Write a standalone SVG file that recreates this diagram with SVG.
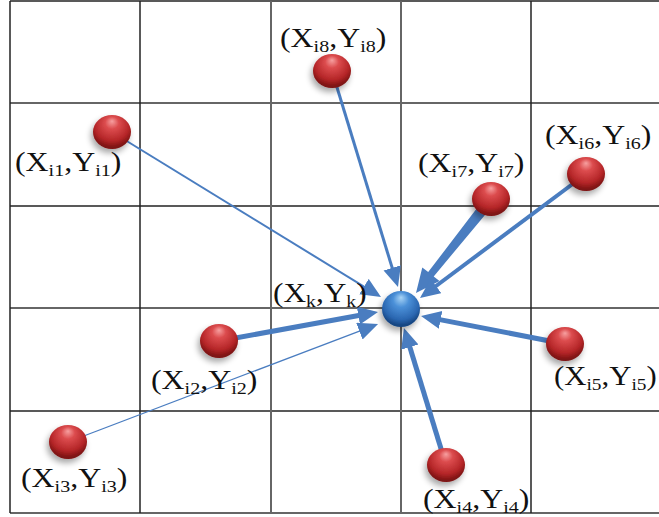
<svg xmlns="http://www.w3.org/2000/svg" width="659" height="517" viewBox="0 0 659 517">
<defs>
<style>
.gk{stroke:#222;stroke-width:1.5;fill:none}
.gg{stroke:#666;stroke-width:2;fill:none}
.c{stroke:#4a7dc0;fill:none;stroke-linecap:butt}
.lbl{font-family:"Liberation Serif","Times New Roman",serif;font-size:27px;fill:#111}
.s{font-size:17px}
</style>
<radialGradient id="red" cx="50%" cy="35%" r="60%" fx="50%" fy="18%">
<stop offset="0" stop-color="#f7a0a0"/>
<stop offset="0.3" stop-color="#dc4c4e"/>
<stop offset="0.75" stop-color="#b52628"/>
<stop offset="1" stop-color="#7c1212"/>
</radialGradient>
<radialGradient id="blue" cx="50%" cy="35%" r="60%" fx="50%" fy="18%">
<stop offset="0" stop-color="#a8d4f6"/>
<stop offset="0.35" stop-color="#4b90d8"/>
<stop offset="0.8" stop-color="#2a66b0"/>
<stop offset="1" stop-color="#174682"/>
</radialGradient>
<filter id="sh" x="-50%" y="-50%" width="200%" height="200%">
<feGaussianBlur in="SourceAlpha" stdDeviation="3"/>
<feOffset dx="-2" dy="4" result="b"/>
<feComponentTransfer><feFuncA type="linear" slope="0.35"/></feComponentTransfer>
<feMerge><feMergeNode/><feMergeNode in="SourceGraphic"/></feMerge>
</filter>
<marker id="ah" markerUnits="userSpaceOnUse" markerWidth="22" markerHeight="20" refX="10" refY="9" orient="auto">
<path d="M0,0 L20,9 L0,18 z" fill="#4a7dc0"/>
</marker>
</defs>
<rect width="659" height="517" fill="#fff"/>
<g id="grid">
<line class="gk" x1="10" y1="1" x2="659" y2="1"/>
<line class="gg" x1="10" y1="103" x2="659" y2="103"/>
<line class="gk" x1="10" y1="206" x2="659" y2="206"/>
<line class="gg" x1="10" y1="308" x2="659" y2="308"/>
<line class="gk" x1="10" y1="411" x2="659" y2="411"/>
<line class="gg" x1="10" y1="513" x2="659" y2="513"/>
<line class="gk" x1="10" y1="1" x2="10" y2="513"/>
<line class="gk" x1="140" y1="1" x2="140" y2="513"/>
<line class="gg" x1="271" y1="1" x2="271" y2="513"/>
<line class="gg" x1="401" y1="1" x2="401" y2="513"/>
<line class="gk" x1="531" y1="1" x2="531" y2="513"/>
</g>
<g id="connectors">
<line class="c" x1="112" y1="132" x2="372.5" y2="291.8" stroke-width="2" marker-end="url(#ah)"/>
<line class="c" x1="332" y1="71" x2="395.1" y2="277.4" stroke-width="3" marker-end="url(#ah)"/>
<path d="M495.4,202.5 L433.7,276.4 L439.5,281 L416,293 L422.3,267.5 L428.2,272.1 L486.6,195.5 z" fill="#4a7dc0"/>
<line class="c" x1="586" y1="174" x2="428" y2="292" stroke-width="4" marker-end="url(#ah)"/>
<line class="c" x1="565" y1="344" x2="430.8" y2="317.9" stroke-width="5" marker-end="url(#ah)"/>
<line class="c" x1="446" y1="465" x2="406.9" y2="337.6" stroke-width="5" marker-end="url(#ah)"/>
<line class="c" x1="219" y1="341" x2="368.2" y2="313.8" stroke-width="5" marker-end="url(#ah)"/>
<line class="c" x1="68" y1="442" x2="368.7" y2="327.6" stroke-width="1.2" marker-end="url(#ah)"/>
</g>
<g id="node-k">
<ellipse cx="401" cy="309" rx="19" ry="18" fill="url(#blue)" filter="url(#sh)"/>
<text class="lbl" transform="translate(273,302) scale(1.16,1)">(X<tspan class="s" dy="5">k</tspan><tspan dy="-5">,Y</tspan><tspan class="s" dy="5">k</tspan><tspan dy="-5">)</tspan></text>
</g>
<g id="node-i1">
<ellipse cx="112" cy="132" rx="19" ry="17" fill="url(#red)" filter="url(#sh)"/>
<text class="lbl" transform="translate(15,171) scale(1.18,1)">(X<tspan class="s" dy="5">i1</tspan><tspan dy="-5">,Y</tspan><tspan class="s" dy="5">i1</tspan><tspan dy="-5">)</tspan></text>
</g>
<g id="node-i8">
<ellipse cx="332" cy="71" rx="19" ry="17" fill="url(#red)" filter="url(#sh)"/>
<text class="lbl" transform="translate(280,47) scale(1.18,1)">(X<tspan class="s" dy="5">i8</tspan><tspan dy="-5">,Y</tspan><tspan class="s" dy="5">i8</tspan><tspan dy="-5">)</tspan></text>
</g>
<g id="node-i7">
<ellipse cx="491" cy="199" rx="19" ry="17" fill="url(#red)" filter="url(#sh)"/>
<text class="lbl" transform="translate(418,172) scale(1.18,1)">(X<tspan class="s" dy="5">i7</tspan><tspan dy="-5">,Y</tspan><tspan class="s" dy="5">i7</tspan><tspan dy="-5">)</tspan></text>
</g>
<g id="node-i6">
<ellipse cx="586" cy="174" rx="19" ry="17" fill="url(#red)" filter="url(#sh)"/>
<text class="lbl" transform="translate(545,144) scale(1.18,1)">(X<tspan class="s" dy="5">i6</tspan><tspan dy="-5">,Y</tspan><tspan class="s" dy="5">i6</tspan><tspan dy="-5">)</tspan></text>
</g>
<g id="node-i5">
<ellipse cx="565" cy="344" rx="19" ry="17" fill="url(#red)" filter="url(#sh)"/>
<text class="lbl" transform="translate(554,385) scale(1.14,1)">(X<tspan class="s" dy="5">i5</tspan><tspan dy="-5">,Y</tspan><tspan class="s" dy="5">i5</tspan><tspan dy="-5">)</tspan></text>
</g>
<g id="node-i4">
<ellipse cx="446" cy="465" rx="19" ry="17" fill="url(#red)" filter="url(#sh)"/>
<text class="lbl" transform="translate(423,508) scale(1.18,1)">(X<tspan class="s" dy="5">i4</tspan><tspan dy="-5">,Y</tspan><tspan class="s" dy="5">i4</tspan><tspan dy="-5">)</tspan></text>
</g>
<g id="node-i2">
<ellipse cx="219" cy="341" rx="19" ry="17" fill="url(#red)" filter="url(#sh)"/>
<text class="lbl" transform="translate(151,389) scale(1.18,1)">(X<tspan class="s" dy="5">i2</tspan><tspan dy="-5">,Y</tspan><tspan class="s" dy="5">i2</tspan><tspan dy="-5">)</tspan></text>
</g>
<g id="node-i3">
<ellipse cx="68" cy="442" rx="19" ry="17" fill="url(#red)" filter="url(#sh)"/>
<text class="lbl" transform="translate(21,487) scale(1.18,1)">(X<tspan class="s" dy="5">i3</tspan><tspan dy="-5">,Y</tspan><tspan class="s" dy="5">i3</tspan><tspan dy="-5">)</tspan></text>
</g>
</svg>
